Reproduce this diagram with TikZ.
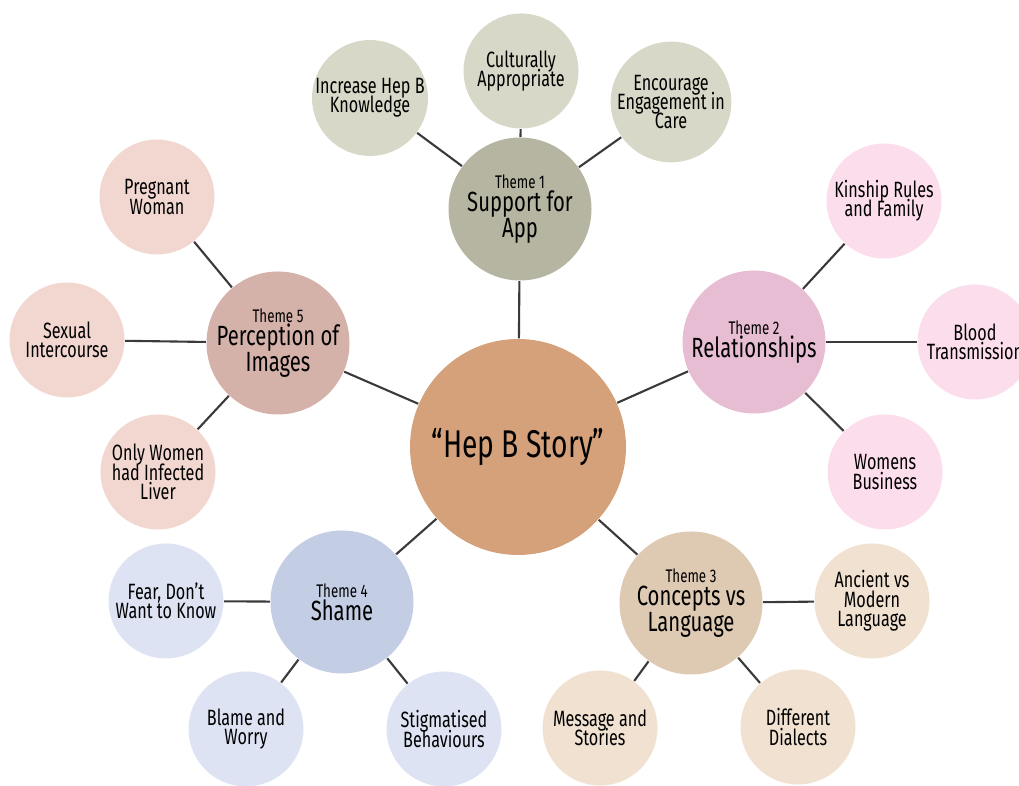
\documentclass[tikz,border=0pt]{standalone}
\usepackage{fontspec}
\setmainfont{Fira Sans}[FakeStretch=0.73]
\setlength{\lineskiplimit}{-5pt}
\definecolor{hubcol}{HTML}{D4A17B}
\definecolor{tonecol}{HTML}{B6B5A1}
\definecolor{lonecol}{HTML}{D7D8C7}
\definecolor{ttwocol}{HTML}{E6BDD3}
\definecolor{ltwocol}{HTML}{FCDDEC}
\definecolor{tthreecol}{HTML}{DEC9B3}
\definecolor{lthreecol}{HTML}{F1E1D1}
\definecolor{tfourcol}{HTML}{C3CDE3}
\definecolor{lfourcol}{HTML}{DDE3F2}
\definecolor{tfivecol}{HTML}{D4B1A9}
\definecolor{lfivecol}{HTML}{F1D7D0}
\definecolor{linkcol}{HTML}{3A3A3A}
\newcommand{\themetext}[2]{{\fontsize{5.2}{5.4}\selectfont Theme #1}\\[-0.8pt]#2}
\tikzset{
  hub/.style={circle,fill=hubcol,minimum size=2.16cm,inner sep=0pt,align=center,font=\fontsize{11}{12}\selectfont},
  theme/.style={circle,fill=#1,minimum size=1.43cm,inner sep=0pt,align=center,font=\fontsize{7.9}{7.3}\selectfont},
  leaf/.style={circle,fill=#1,minimum size=1.15cm,inner sep=0pt,align=center,font=\fontsize{6.3}{5.5}\selectfont},
  link/.style={draw=linkcol,line width=0.6pt}
}
\begin{document}
\begin{tikzpicture}

\useasboundingbox (0,0) rectangle (10.19,7.86);
\clip (0,0) rectangle (10.19,7.86);
  \node[hub] (n0) at (5.18,3.39) {``Hep B Story''};
  % theme 1
  \node[theme=tonecol] (n1) at (5.20,5.77) {\themetext{1}{Support for\\App}};
  \node[leaf=lonecol] (n11) at (3.70,6.88) {Increase Hep B\\Knowledge};
  \node[leaf=lonecol] (n12) at (5.21,7.15) {Culturally\\Appropriate};
  \node[leaf=lonecol] (n13) at (6.71,6.84) {Encourage\\Engagement in\\Care};
  % theme 2
  \node[theme=ttwocol] (n2) at (7.54,4.44) {\themetext{2}{Relationships}};
  \node[leaf=ltwocol] (n21) at (8.84,5.85) {Kinship Rules\\and Family};
  \node[leaf=ltwocol] (n22) at (9.75,4.44) {Blood\\Transmission};
  \node[leaf=ltwocol] (n23) at (8.85,3.14) {Womens\\Business};
  % theme 3
  \node[theme=tthreecol] (n3) at (6.91,1.83) {\themetext{3}{Concepts vs\\Language}};
  \node[leaf=lthreecol] (n31) at (8.72,1.85) {Ancient vs\\Modern\\Language};
  \node[leaf=lthreecol] (n32) at (7.98,0.59) {Different\\Dialects};
  \node[leaf=lthreecol] (n33) at (6.00,0.58) {Message and\\Stories};
  % theme 4
  \node[theme=tfourcol] (n4) at (3.42,1.84) {\themetext{4}{Shame}};
  \node[leaf=lfourcol] (n41) at (1.66,1.85) {Fear, Don’t\\Want to Know};
  \node[leaf=lfourcol] (n42) at (2.46,0.57) {Blame and\\Worry};
  \node[leaf=lfourcol] (n43) at (4.44,0.57) {Stigmatised\\Behaviours};
  % theme 5
  \node[theme=tfivecol] (n5) at (2.78,4.43) {\themetext{5}{Perception of\\Images}};
  \node[leaf=lfivecol] (n51) at (1.57,5.89) {Pregnant\\Woman};
  \node[leaf=lfivecol] (n52) at (0.67,4.46) {Sexual\\Intercourse};
  \node[leaf=lfivecol] (n53) at (1.58,3.14) {Only Women\\had Infected\\Liver};
  \draw[link] (n0) -- (n1);
  \draw[link] (n0) -- (n2);
  \draw[link] (n0) -- (n3);
  \draw[link] (n0) -- (n4);
  \draw[link] (n0) -- (n5);
  \draw[link] (n1) -- (n11);
  \draw[link] (n1) -- (n12);
  \draw[link] (n1) -- (n13);
  \draw[link] (n2) -- (n21);
  \draw[link] (n2) -- (n22);
  \draw[link] (n2) -- (n23);
  \draw[link] (n3) -- (n31);
  \draw[link] (n3) -- (n32);
  \draw[link] (n3) -- (n33);
  \draw[link] (n4) -- (n41);
  \draw[link] (n4) -- (n42);
  \draw[link] (n4) -- (n43);
  \draw[link] (n5) -- (n51);
  \draw[link] (n5) -- (n52);
  \draw[link] (n5) -- (n53);
 \end{tikzpicture}
\end{document}
